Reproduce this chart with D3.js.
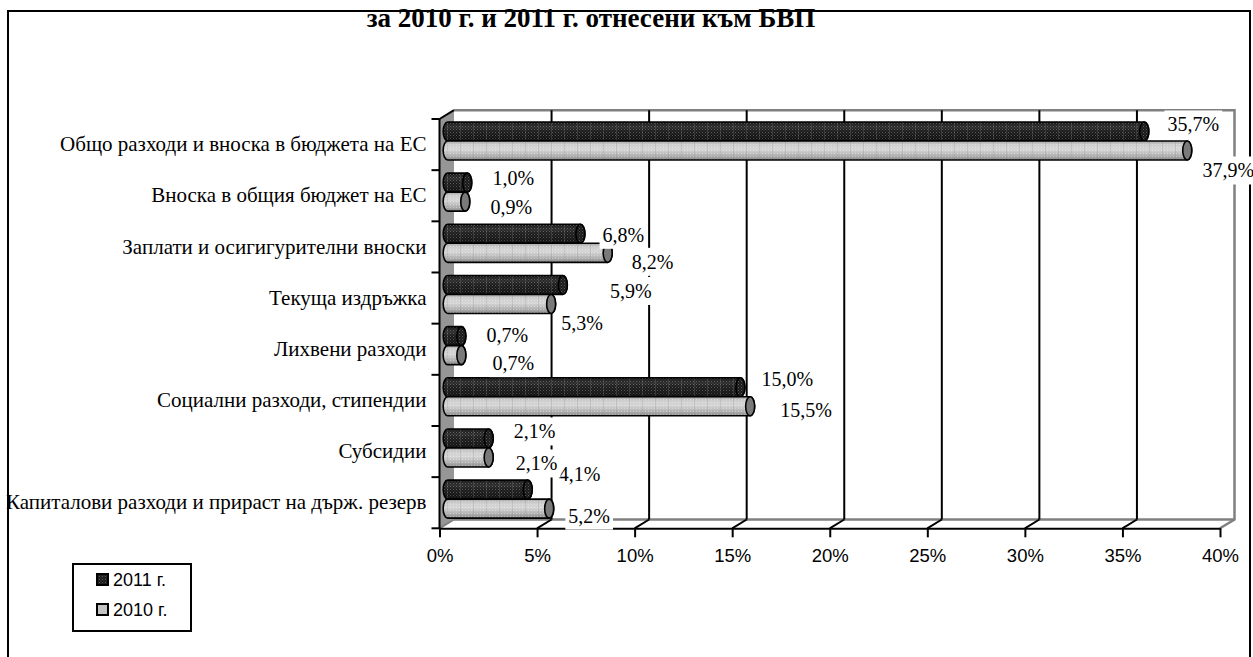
<!DOCTYPE html>
<html><head><meta charset="utf-8">
<script src="https://cdn.jsdelivr.net/npm/d3@7"></script>
<style>
html,body{margin:0;padding:0;background:#fff;}
svg{display:block;}
</style></head>
<body>
<svg id="chart" width="1253" height="657"></svg>
<script>
const categories = [
  "Общо разходи и вноска в бюджета на ЕС",
  "Вноска в общия бюджет на ЕС",
  "Заплати и осигигурителни вноски",
  "Текуща издръжка",
  "Лихвени разходи",
  "Социални разходи, стипендии",
  "Субсидии",
  "Капиталови разходи и прираст на държ. резерв"
];
const seriesNames = ["2011 г.", "2010 г."];
const values2011 = [35.7, 1.0, 6.8, 5.9, 0.7, 15.0, 2.1, 4.1];
const values2010 = [37.9, 0.9, 8.2, 5.3, 0.7, 15.5, 2.1, 5.2];
const xTicks = [0, 5, 10, 15, 20, 25, 30, 35, 40];
const titleText = "за 2010 г. и 2011 г. отнесени към БВП";

// manual label nudges (as moved in the original), [dx, dy] from bar end / bar centre
const nudge2011 = [[49,-7],[46,-5],[43,1],[68,6],[46,-1],[47,-8],[46,-7],[52,-16]];
const nudge2010 = [[41,20],[46,5],[45,9],[31,19],[52,8],[56,4],[48,6],[40,7]];

const svg = d3.select("#chart");
const defs = svg.append("defs");

// textures
const pd = defs.append("pattern").attr("id","darkTex").attr("patternUnits","userSpaceOnUse")
  .attr("width",3).attr("height",3);
pd.append("rect").attr("width",3).attr("height",3).attr("fill","#1a1a1a");
pd.append("rect").attr("x",0).attr("y",0).attr("width",1).attr("height",1).attr("fill","#5c5c5c");
pd.append("rect").attr("x",1.5).attr("y",1.5).attr("width",1).attr("height",1).attr("fill","#454545");

const gg = defs.append("linearGradient").attr("id","grayGrad").attr("x1",0).attr("y1",0).attr("x2",0).attr("y2",1);
[[0,"#a8a8a8"],[0.2,"#cfcfcf"],[0.45,"#d6d6d6"],[0.75,"#b4b4b4"],[1,"#8a8a8a"]].forEach(s=>
  gg.append("stop").attr("offset",s[0]).attr("stop-color",s[1]));
const dg = defs.append("linearGradient").attr("id","darkShade").attr("x1",0).attr("y1",0).attr("x2",0).attr("y2",1);
[[0,"#000",0.1],[0.3,"#fff",0.08],[0.6,"#000",0],[1,"#000",0.35]].forEach(s=>
  dg.append("stop").attr("offset",s[0]).attr("stop-color",s[1]).attr("stop-opacity",s[2]));
const pg = defs.append("pattern").attr("id","grayDots").attr("patternUnits","userSpaceOnUse")
  .attr("width",3).attr("height",3);
pg.append("rect").attr("x",0).attr("y",0).attr("width",1).attr("height",1).attr("fill","#fff").attr("opacity",0.35);
const pv = defs.append("pattern").attr("id","vlines").attr("patternUnits","userSpaceOnUse")
  .attr("width",13).attr("height",20).attr("x",447);
pv.append("rect").attr("x",0).attr("y",0).attr("width",1).attr("height",20).attr("fill","#888").attr("opacity",0.25);

// geometry
const depthDx = 14.5, depthDy = -8.8;
const x = d3.scaleLinear().domain([0, 40]).range([439.5, 1220]);
const yTop = 119, yBottom = 528.3;
const y = d3.scaleBand().domain(categories).range([yTop, yBottom]).padding(0);
const ySub = d3.scaleBand().domain(seriesNames).range([0, y.bandwidth()]).paddingInner(0).paddingOuter(0.345);
const barDx = 8.2, barDy = -3.6;

// title
svg.append("text").attr("x", 591).attr("y", 27).attr("text-anchor","middle")
  .attr("font-family","'Liberation Serif','Times New Roman',serif").attr("font-weight","bold")
  .attr("font-size", 27).attr("fill","#000").text(titleText);

// outer border
svg.append("rect").attr("x",8).attr("y",11).attr("width",1242).attr("height",700)
  .attr("fill","none").attr("stroke","#000").attr("stroke-width",2);

const plot = svg.append("g");
const bx = v => x(v) + depthDx;
const backTop = yTop + depthDy, backBottom = yBottom + depthDy;

// side wall
plot.append("path")
  .attr("d", `M${x(0)},${yTop} L${bx(0)},${backTop} L${bx(0)},${backBottom} L${x(0)},${yBottom} Z`)
  .attr("fill","#969696").attr("stroke","none");
plot.append("line").attr("x1",x(0)).attr("y1",yTop).attr("x2",bx(0)).attr("y2",backTop)
  .attr("stroke","#000").attr("stroke-width",2);
plot.append("line").attr("x1",x(0)).attr("y1",yBottom).attr("x2",bx(0)).attr("y2",backBottom)
  .attr("stroke","#808080").attr("stroke-width",2);

// back wall border (gray)
plot.append("path")
  .attr("d", `M${bx(0)},${backTop} L${bx(40)},${backTop} L${bx(40)},${backBottom} L${x(40)},${yBottom}`)
  .attr("fill","none").attr("stroke","#808080").attr("stroke-width",2.5);
plot.append("line").attr("x1",bx(0)).attr("y1",backBottom).attr("x2",bx(40)).attr("y2",backBottom)
  .attr("stroke","#808080").attr("stroke-width",2.5);

// gridlines + floor diagonals
const inner = xTicks.filter(v => v > 0 && v < 40);
plot.selectAll(".grid").data(inner).enter().append("line")
  .attr("x1", d => bx(d)).attr("x2", d => bx(d)).attr("y1", backTop).attr("y2", backBottom)
  .attr("stroke","#000").attr("stroke-width",2);
plot.selectAll(".diag").data(inner).enter().append("line")
  .attr("x1", d => x(d)).attr("x2", d => bx(d)).attr("y1", yBottom).attr("y2", backBottom)
  .attr("stroke","#000").attr("stroke-width",2);

// x axis
const xAxis = d3.axisBottom(x).tickValues(xTicks).tickFormat(d => d + "%")
  .tickSize(9).tickSizeOuter(0).tickPadding(12);
const gx = plot.append("g").attr("transform", `translate(0,${yBottom})`).call(xAxis);
gx.select(".domain").attr("stroke","#000").attr("stroke-width",2);
gx.selectAll(".tick line").attr("stroke","#000").attr("stroke-width",2);
gx.selectAll(".tick text").attr("font-family","'Liberation Sans',Arial,sans-serif")
  .attr("font-size",18.5).attr("fill","#000");

// y axis (category labels)
const yAxis = d3.axisLeft(y).tickSize(0).tickPadding(13);
const gy = plot.append("g").attr("transform", `translate(${x(0)},0)`).call(yAxis);
gy.select(".domain").remove();
gy.selectAll(".tick text").attr("font-family","'Liberation Serif','Times New Roman',serif")
  .attr("font-size",21).attr("fill","#000");
// y axis line + boundary ticks
plot.append("line").attr("x1",x(0)).attr("x2",x(0)).attr("y1",yTop).attr("y2",yBottom)
  .attr("stroke","#000").attr("stroke-width",2);
const bounds = categories.map(c => y(c)).concat([yBottom]);
plot.selectAll(".ytick").data(bounds).enter().append("line")
  .attr("x1", x(0) - 8).attr("x2", x(0)).attr("y1", d => d).attr("y2", d => d)
  .attr("stroke","#000").attr("stroke-width",2);

// cylinders
function cyl(x0, x1, top, h, rx) {
  const b = top + h, ry = h / 2;
  return `M${x0},${top} L${x1},${top} A${rx},${ry} 0 0 1 ${x1},${b} L${x0},${b} A${rx},${ry} 0 0 1 ${x0},${top} Z`;
}
const rx = 4.5;
const series = [
  {name: seriesNames[0], values: values2011, nudge: nudge2011, dark: true},
  {name: seriesNames[1], values: values2010, nudge: nudge2010, dark: false}
];
const barsG = plot.append("g");
series.forEach(s => {
  categories.forEach((c, i) => {
    const v = s.values[i];
    const top = y(c) + ySub(s.name) + barDy;
    const h = ySub.bandwidth();
    const x0 = x(0) + barDx, x1 = x(v) + barDx;
    const d = cyl(x0, x1, top, h, rx);
    if (s.dark) {
      barsG.append("path").attr("d", d).attr("fill","url(#darkTex)");
      barsG.append("path").attr("d", d).attr("fill","url(#darkShade)");
    } else {
      barsG.append("path").attr("d", d).attr("fill","url(#grayGrad)");
      barsG.append("path").attr("d", d).attr("fill","url(#grayDots)");
    }
    barsG.append("path").attr("d", d).attr("fill","url(#vlines)");
    barsG.append("path").attr("d", d).attr("fill","none").attr("stroke","#000").attr("stroke-width",1.6);
    barsG.append("ellipse").attr("cx", x1).attr("cy", top + h/2).attr("rx", rx).attr("ry", h/2)
      .attr("fill", s.dark ? "url(#darkTex)" : "#7a7a7a").attr("stroke","#000").attr("stroke-width",1.6);
  });
});

// data labels
const fmt = v => d3.format(".1f")(v).replace(".", ",") + "%";
const labelsG = svg.append("g");
series.forEach(s => {
  categories.forEach((c, i) => {
    const v = s.values[i];
    const cy = y(c) + ySub(s.name) + barDy + ySub.bandwidth()/2;
    const cx = x(v) + barDx;
    const lg = labelsG.append("g");
    const t = lg.append("text").attr("x", cx + s.nudge[i][0]).attr("y", cy + s.nudge[i][1])
      .attr("text-anchor","middle").attr("dy","0.35em")
      .attr("font-family","'Liberation Serif','Times New Roman',serif").attr("font-size",20)
      .attr("fill","#000").text(fmt(v));
    const bb = t.node().getBBox();
    lg.insert("rect","text").attr("x", bb.x - 3).attr("y", bb.y - 3)
      .attr("width", bb.width + 6).attr("height", bb.height + 6).attr("fill","#fff");
  });
});

// legend
const leg = svg.append("g");
leg.append("rect").attr("x",73).attr("y",564).attr("width",118).attr("height",67)
  .attr("fill","#fff").attr("stroke","#000").attr("stroke-width",2);
series.forEach((s, k) => {
  const yy = 574 + k * 30;
  leg.append("rect").attr("x",97).attr("y",yy).attr("width",11).attr("height",11)
    .attr("fill", s.dark ? "url(#darkTex)" : "#c4c4c4").attr("stroke","#000").attr("stroke-width",2);
  leg.append("text").attr("x",113).attr("y",yy + 12).attr("font-family","'Liberation Sans',Arial,sans-serif")
    .attr("font-size",18).attr("fill","#000").text(s.name);
});
</script>
</body></html>
